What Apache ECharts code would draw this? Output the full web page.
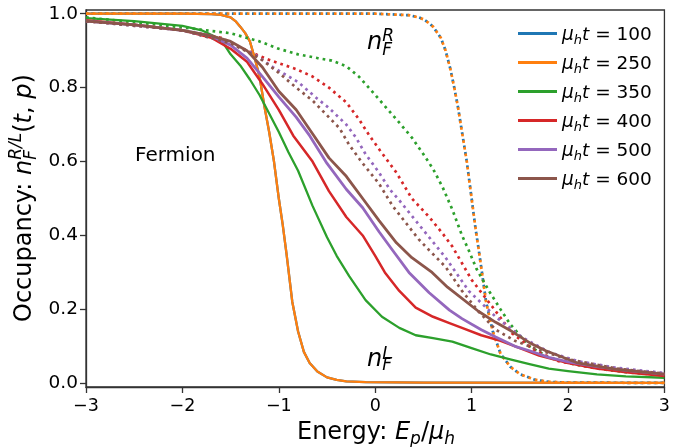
<!DOCTYPE html>
<html><head><meta charset="utf-8">
<script src="https://cdn.jsdelivr.net/npm/echarts@6/dist/echarts.min.js"></script>
<style>html,body{margin:0;padding:0;background:#fff}#c{width:673px;height:447px}</style>
</head><body><div id="c"></div>
<script>
// ---- data ----
const times = [100, 250, 350, 400, 500, 600];
const colors = ['#1f77b4', '#ff7f0e', '#2ca02c', '#d62728', '#9467bd', '#8c564b'];
const xTicks = [-3, -2, -1, 0, 1, 2, 3];
const yTicks = [0, 0.2, 0.4, 0.6, 0.8, 1.0];

// t = 100 and t = 250 (identical curves, blue hidden under orange)
const xL100 = [-3, -2, -1.7, -1.6, -1.5, -1.45, -1.4, -1.35, -1.3, -1.25, -1.2, -1.15, -1.1, -1.05, -1.0, -0.96, -0.92, -0.86, -0.8, -0.74, -0.68, -0.6, -0.5, -0.4, -0.3, -0.1, 0.5, 3];
const yL100 = [1.0, 1.0, 0.999, 0.997, 0.99, 0.98, 0.965, 0.948, 0.925, 0.88, 0.83, 0.75, 0.68, 0.6, 0.5, 0.43, 0.35, 0.22, 0.14, 0.085, 0.055, 0.032, 0.016, 0.009, 0.005, 0.003, 0.002, 0.001];
const xR100 = [-3, 0, 0.35, 0.45, 0.5, 0.55, 0.6, 0.68, 0.73, 0.78, 0.82, 0.86, 0.9, 0.95, 1.0, 1.04, 1.08, 1.15, 1.22, 1.3, 1.4, 1.5, 1.65, 1.8, 2.0, 3];
const yR100 = [1.0, 1.0, 0.996, 0.99, 0.985, 0.976, 0.965, 0.935, 0.9, 0.85, 0.8, 0.745, 0.68, 0.6, 0.5, 0.42, 0.35, 0.22, 0.14, 0.08, 0.045, 0.025, 0.01, 0.004, 0.002, 0.001];
const xL250 = xL100, yL250 = yL100, xR250 = xR100, yR250 = yR100;

const xL350 = [-3, -2.5, -2, -1.8, -1.6, -1.5, -1.4, -1.3, -1.2, -1.1, -1.0, -0.9, -0.8, -0.65, -0.5, -0.4, -0.27, -0.1, 0.07, 0.25, 0.42, 0.6, 0.8, 1.0, 1.2, 1.4, 1.6, 1.8, 2.0, 2.3, 2.6, 3.0];
const yL350 = [0.988, 0.98, 0.967, 0.955, 0.93, 0.89, 0.86, 0.822, 0.78, 0.73, 0.68, 0.625, 0.575, 0.48, 0.395, 0.345, 0.29, 0.225, 0.18, 0.15, 0.13, 0.122, 0.113, 0.095, 0.078, 0.065, 0.052, 0.04, 0.033, 0.024, 0.019, 0.015];
const xR350 = [-3, -2.5, -2, -1.5, -1.2, -1.0, -0.8, -0.6, -0.45, -0.3, -0.17, -0.05, 0.05, 0.15, 0.25, 0.38, 0.5, 0.6, 0.7, 0.8, 0.9, 0.97, 1.05, 1.18, 1.3, 1.4, 1.5, 1.6, 1.8, 2.0, 2.3, 2.6, 3.0];
const yR350 = [0.99, 0.977, 0.963, 0.947, 0.925, 0.905, 0.89, 0.88, 0.873, 0.858, 0.83, 0.795, 0.765, 0.735, 0.705, 0.665, 0.62, 0.58, 0.53, 0.47, 0.4, 0.36, 0.31, 0.25, 0.2, 0.16, 0.13, 0.1, 0.07, 0.055, 0.04, 0.03, 0.022];

const xL400 = [-3, -2.5, -2, -1.7, -1.5, -1.33, -1.17, -1.0, -0.85, -0.65, -0.48, -0.3, -0.13, 0, 0.1, 0.25, 0.42, 0.6, 0.77, 0.9, 1.1, 1.3, 1.5, 1.7, 2.0, 2.3, 2.6, 3.0];
const yL400 = [0.982, 0.97, 0.955, 0.935, 0.905, 0.87, 0.81, 0.74, 0.67, 0.6, 0.52, 0.45, 0.4, 0.345, 0.3, 0.25, 0.205, 0.18, 0.163, 0.15, 0.13, 0.115, 0.095, 0.075, 0.055, 0.04, 0.03, 0.02];
const xR400 = [-3, -2.5, -2, -1.6, -1.33, -1.1, -0.82, -0.65, -0.48, -0.3, -0.17, -0.06, 0.05, 0.22, 0.38, 0.56, 0.7, 0.8, 1.0, 1.25, 1.42, 1.66, 1.9, 2.2, 2.6, 3.0];
const yR400 = [0.98, 0.97, 0.955, 0.935, 0.9, 0.875, 0.85, 0.83, 0.8, 0.76, 0.715, 0.67, 0.63, 0.57, 0.5, 0.45, 0.405, 0.37, 0.28, 0.195, 0.135, 0.088, 0.06, 0.045, 0.032, 0.022];

const xL500 = [-3, -2.5, -2, -1.7, -1.5, -1.33, -1.17, -1.0, -0.82, -0.68, -0.5, -0.3, -0.13, 0.04, 0.18, 0.35, 0.56, 0.77, 0.9, 1.1, 1.25, 1.45, 1.6, 1.8, 2.0, 2.3, 2.6, 3.0];
const yL500 = [0.98, 0.97, 0.955, 0.94, 0.915, 0.88, 0.83, 0.775, 0.72, 0.67, 0.595, 0.525, 0.475, 0.41, 0.36, 0.3, 0.245, 0.198, 0.175, 0.145, 0.125, 0.1, 0.088, 0.07, 0.058, 0.045, 0.035, 0.025];
const xR500 = [-3, -2, -1.5, -1.25, -1.06, -0.8, -0.6, -0.48, -0.3, -0.2, -0.1, 0.04, 0.15, 0.25, 0.42, 0.56, 0.73, 0.97, 1.25, 1.52, 1.8, 2.1, 2.5, 3.0];
const yR500 = [0.98, 0.955, 0.92, 0.89, 0.855, 0.815, 0.77, 0.745, 0.7, 0.665, 0.62, 0.57, 0.525, 0.495, 0.44, 0.395, 0.34, 0.25, 0.18, 0.125, 0.085, 0.06, 0.042, 0.028];

const xL600 = [-3, -2.5, -2, -1.7, -1.5, -1.33, -1.17, -1.0, -0.82, -0.65, -0.48, -0.3, -0.13, 0.04, 0.22, 0.38, 0.59, 0.75, 1.07, 1.25, 1.42, 1.6, 1.77, 2.1, 2.5, 3.0];
const yL600 = [0.98, 0.97, 0.955, 0.94, 0.925, 0.9, 0.855, 0.79, 0.74, 0.675, 0.61, 0.56, 0.5, 0.44, 0.38, 0.34, 0.3, 0.26, 0.195, 0.165, 0.14, 0.11, 0.088, 0.055, 0.038, 0.025];
const xR600 = [-3, -2, -1.5, -1.2, -1.0, -0.82, -0.65, -0.5, -0.37, -0.27, -0.13, 0.04, 0.18, 0.3, 0.45, 0.56, 0.73, 0.9, 1.07, 1.25, 1.45, 1.7, 2.0, 2.5, 3.0];
const yR600 = [0.98, 0.955, 0.92, 0.88, 0.84, 0.8, 0.765, 0.725, 0.69, 0.645, 0.595, 0.54, 0.48, 0.44, 0.39, 0.36, 0.315, 0.25, 0.195, 0.145, 0.115, 0.09, 0.065, 0.04, 0.026];

const curvesL = [[xL100, yL100], [xL250, yL250], [xL350, yL350], [xL400, yL400], [xL500, yL500], [xL600, yL600]];
const curvesR = [[xR100, yR100], [xR250, yR250], [xR350, yR350], [xR400, yR400], [xR500, yR500], [xR600, yR600]];
const widthsL = [2.3, 2.3, 2.3, 2.5, 2.8, 2.8];

// ---- helpers ----
const FONT = '"DejaVu Sans", sans-serif';
const ctx = document.createElement('canvas').getContext('2d');
function tw(t, s, i) { ctx.font = (i ? 'italic ' : '') + s + 'px "DejaVu Sans"'; return ctx.measureText(t).width; }
function zip(xs, ys) { return xs.map((x, k) => [x, ys[k]]); }
function txt(t, x, yb, s, i) {
  return { type: 'text', x: x, y: yb - 0.3 * s, style: { text: t, fontSize: s, fontStyle: i ? 'italic' : 'normal', fontFamily: FONT, fill: '#000', textAlign: 'left', textVerticalAlign: 'middle', verticalAlign: 'middle' } };
}
function build(pieces) {
  const out = []; let x = 0;
  for (const p of pieces) {
    if (p.stack) {
      let w = 0;
      for (const q of p.stack) { out.push(txt(q.t, x + (q.dx || 0), q.dy || 0, q.s, q.i)); w = Math.max(w, tw(q.t, q.s, q.i) + (q.dx || 0)); }
      x += w;
    } else { out.push(txt(p.t, x, p.dy || 0, p.s, p.i)); x += tw(p.t, p.s, p.i); }
  }
  return { els: out, width: x };
}

const yTitle = build([
  { t: 'Occupancy: ', s: 24 }, { t: 'n', s: 24, i: true },
  { stack: [{ t: 'R/L', s: 17, i: true, dy: -10 }, { t: 'F', s: 17, i: true, dy: 5 }] },
  { t: '(', s: 24 }, { t: 't', s: 24, i: true }, { t: ', ', s: 24 }, { t: 'p', s: 24, i: true }, { t: ')', s: 24 }
]);
const xTitle = build([
  { t: 'Energy: ', s: 24 }, { t: 'E', s: 24, i: true }, { t: 'p', s: 17, i: true, dy: 5 },
  { t: '/', s: 24 }, { t: 'μ', s: 24, i: true }, { t: 'h', s: 17, i: true, dy: 5 }
]);
const nR = build([{ t: 'n', s: 24, i: true }, { stack: [{ t: 'R', s: 17, i: true, dy: -8 }, { t: 'F', s: 17, i: true, dy: 6 }] }]);
const nL = build([{ t: 'n', s: 24, i: true }, { stack: [{ t: 'L', s: 17, i: true, dy: -7 }, { t: 'F', s: 17, i: true, dy: 4 }] }]);

const series = [];
times.forEach((t, k) => {
  series.push({
    name: 'L' + t, type: 'line', data: zip(curvesL[k][0], curvesL[k][1]), showSymbol: false, symbol: 'none',
    lineStyle: { color: colors[k], width: widthsL[k], join: 'round' }, itemStyle: { color: colors[k] }, silent: true
  });
  series.push({
    name: 'R' + t, type: 'line', data: zip(curvesR[k][0], curvesR[k][1]), showSymbol: false, symbol: 'none',
    lineStyle: { color: colors[k], width: 2.7, type: [2.7, 4], cap: 'butt', dashOffset: k === 0 ? 1.5 : 0 },
    itemStyle: { color: colors[k] }, silent: true
  });
});

const chart = echarts.init(document.getElementById('c'), null, { renderer: 'canvas' });
chart.setOption({
  animation: false,
  backgroundColor: '#fff',
  textStyle: { fontFamily: FONT },
  grid: { left: 86, right: 8, top: 10, bottom: 60, show: true, borderColor: '#333', borderWidth: 1.3, backgroundColor: 'transparent' },
  xAxis: {
    type: 'value', min: -3, max: 3, interval: 1,
    axisLine: { show: true, onZero: false, lineStyle: { color: '#333', width: 1.3 } },
    axisTick: { show: true, length: 6, lineStyle: { color: '#333', width: 1.3 } },
    axisLabel: { fontSize: 17.5, color: '#000', margin: 10, fontFamily: FONT, formatter: v => v < 0 ? '\u2212' + (-v) : String(v) },
    splitLine: { show: false }
  },
  yAxis: {
    type: 'value', min: -0.01, max: 1.01,
    axisLine: { show: true, onZero: false, lineStyle: { color: '#333', width: 1.3 } },
    axisTick: { show: true, length: 6, customValues: yTicks, lineStyle: { color: '#333', width: 1.3 } },
    axisLabel: { fontSize: 18.5, color: '#000', margin: 8, fontFamily: FONT, customValues: yTicks, formatter: v => v.toFixed(1) },
    splitLine: { show: false }
  },
  legend: {
    data: times.map(t => 'L' + t), orient: 'vertical', left: 518, top: 23.5, padding: 0,
    itemWidth: 39, itemHeight: 3, icon: 'rect', itemGap: 5,
    formatter: name => '{m|μ}{s|h}{m|t}{r| = ' + name.slice(1) + '}',
    textStyle: {
      fontFamily: FONT, color: '#000',
      rich: {
        m: { fontSize: 18.5, fontStyle: 'italic', fontFamily: FONT, lineHeight: 20, padding: [2, 0, 0, 0], verticalAlign: 'top' },
        r: { fontSize: 18.5, fontFamily: FONT, lineHeight: 20, padding: [2, 0, 0, 0], verticalAlign: 'top' },
        s: { fontSize: 13, fontStyle: 'italic', fontFamily: FONT, lineHeight: 14, padding: [11, 0, 0, 0], verticalAlign: 'top' }
      }
    }
  },
  graphic: [
    { type: 'group', x: 32, y: 322, rotation: Math.PI / 2, children: yTitle.els, silent: true },
    { type: 'group', x: 376 - xTitle.width / 2, y: 440, children: xTitle.els, silent: true },
    { type: 'group', x: 367, y: 50, children: nR.els, silent: true },
    { type: 'group', x: 367, y: 367, children: nL.els, silent: true },
    { type: 'group', x: 135, y: 161.5, children: [txt('Fermion', 0, 0, 20, false)], silent: true }
  ],
  series: series
});
</script>
</body></html>
